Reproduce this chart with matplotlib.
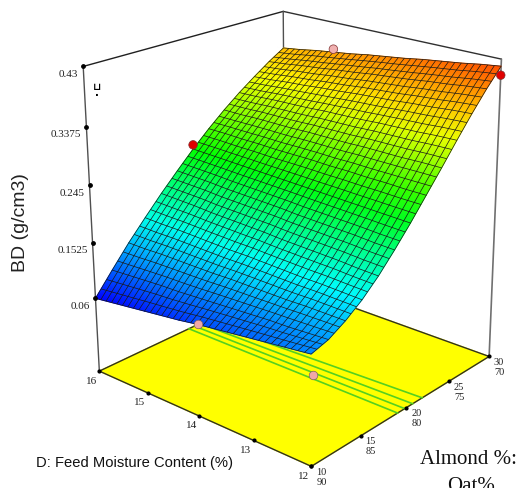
import numpy as np
import matplotlib
matplotlib.use("Agg")
import matplotlib.pyplot as plt
from matplotlib.collections import LineCollection
from matplotlib.colors import LinearSegmentedColormap

moisture_ticks = [16, 15, 14, 13, 12]
almond_ticks = [10, 15, 20, 25, 30]
oat_ticks = [90, 85, 80, 75, 70]
bd_ticks = [0.43, 0.3375, 0.245, 0.1525, 0.06]
bd_tick_labels = ["0.43", "0.3375", "0.245", "0.1525", "0.06"]
moisture_grid = [16, 15.667, 15.333, 15, 14.667, 14.333, 14, 13.667, 13.333, 13, 12.667, 12.333, 12]
almond_grid = [10, 11.667, 13.333, 15, 16.667, 18.333, 20, 21.667, 23.333, 25, 26.667, 28.333, 30]
# BD x 1000. Rows: moisture, columns: almond
bd_table = [
    [60, 95, 129, 160, 190, 218, 245, 270, 293, 314, 333, 351, 367],
    [64, 97, 129, 159, 189, 217, 244, 270, 293, 315, 335, 354, 371],
    [68, 99, 130, 159, 188, 216, 243, 269, 294, 317, 338, 358, 376],
    [72, 101, 130, 158, 186, 214, 242, 269, 294, 318, 340, 361, 380],
    [76, 102, 130, 157, 185, 213, 241, 268, 294, 319, 343, 365, 384],
    [80, 104, 130, 156, 184, 212, 240, 268, 295, 321, 345, 368, 389],
    [85, 106, 131, 156, 183, 211, 239, 268, 295, 322, 348, 372, 393],
    [89, 108, 131, 155, 181, 209, 238, 267, 295, 323, 350, 375, 397],
    [93, 110, 131, 154, 180, 208, 237, 267, 296, 325, 352, 378, 402],
    [97, 112, 131, 153, 179, 207, 236, 266, 296, 326, 355, 382, 406],
    [101, 113, 132, 153, 178, 206, 235, 266, 296, 327, 357, 385, 410],
    [105, 115, 132, 152, 176, 204, 234, 265, 297, 329, 360, 389, 415],
    [109, 117, 132, 151, 175, 203, 233, 265, 297, 330, 362, 392, 419],
]
design_moisture = [16, 15, 12]
design_almond = [20, 30, 30]
design_bd = [0.252, 0.385, 0.405]
design_colors = ["#e00000", "#f0b0b0", "#e00000"]
floor_moisture = [16, 13.6]
floor_almond = [20, 19.5]
contour_d16 = [19.0, 19.6, 20.2, 20.8]
contour_d12 = [19.0, 19.8, 20.7, 21.8]

Z_FLOOR, Z_TOP = -0.0647, 0.43
WIRE_PER_CELL = 3
calib_model = [(16,10,0),(12,10,0),(12,30,0),(16,30,0),(16,10,1),(16,30,1),(12,30,1)]
calib_px = [(98,370),(312,467),(488,356),(287,284),(84,67),(282,11),(502,59)]

A, b = [], []
for (d, a, w), (x, y) in zip(calib_model, calib_px):
    u, v = (16 - d) / 4, (a - 10) / 20
    A.append([u, v, w, 1, 0, 0, 0, 0, -x*u, -x*v, -x*w]); b.append(x)
    A.append([0, 0, 0, 0, u, v, w, 1, -y*u, -y*v, -y*w]); b.append(y)
p = np.linalg.lstsq(np.array(A, float), np.array(b, float), rcond=None)[0]

def project(d, a, z):
    u = (16 - np.asarray(d, float)) / 4
    v = (np.asarray(a, float) - 10) / 20
    w = (np.asarray(z, float) - Z_FLOOR) / (Z_TOP - Z_FLOOR)
    den = p[8]*u + p[9]*v + p[10]*w + 1
    return (p[0]*u + p[1]*v + p[2]*w + p[3]) / den, (p[4]*u + p[5]*v + p[6]*w + p[7]) / den

fig = plt.figure(figsize=(5.19, 4.88), dpi=100)
ax = fig.add_axes([0, 0, 1, 1])
ax.set_xlim(0, 519); ax.set_ylim(488, 0); ax.axis("off")
cmap = LinearSegmentedColormap.from_list("de", ["#0000ff", "#00ffff", "#00ff00", "#ffff00", "#ff3800"])
serif = "Liberation Serif"
sans = "Liberation Sans"
zf = Z_FLOOR
def line(p0, p1, c="#303030", lw=1.0, zo=2):
    x, y = project(*zip(p0, p1))
    ax.plot(x, y, color=c, lw=lw, zorder=zo, solid_capstyle="round")

# box
line((16,10,Z_TOP),(16,30,Z_TOP), c="#202020")
line((16,30,Z_TOP),(12,30,Z_TOP), c="#303030")
line((16,30,zf),(16,30,Z_TOP), c="#505050")
line((16,10,zf),(16,10,Z_TOP), c="#505050")
line((12,30,zf),(12,30,Z_TOP), c="#707070", lw=1.2)
# floor
cx, cy = project([16,12,12,16],[10,10,30,30],[zf]*4)
ax.fill(cx, cy, color="#ffff00", zorder=3)
ax.plot(list(cx)+[cx[0]], list(cy)+[cy[0]], color="#303020", lw=1.0, zorder=4)
for c0, c1 in zip(contour_d16, contour_d12):
    x, y = project([16,12],[c0,c1],[zf,zf])
    ax.plot(x, y, color="#55d020", lw=1.2, zorder=4)
# surface: colours blend between the read nodes
D, Al = np.meshgrid(moisture_grid, almond_grid, indexing="ij")
Zv = np.array(bd_table) / 1000
X, Y = project(D, Al, Zv)
ax.pcolormesh(X, Y, Zv, cmap=cmap, vmin=0.06, vmax=0.43, zorder=5, shading="gouraud")
# wireframe styling over the read faces
n = len(moisture_grid)
fine = np.linspace(0, n-1, (n-1)*WIRE_PER_CELL+1)
def sample(arr, r, c):
    r0 = np.minimum(np.floor(r).astype(int), n-2); c0 = np.minimum(np.floor(c).astype(int), n-2)
    fr, fc = r-r0, c-c0
    return (arr[r0,c0]*(1-fr)*(1-fc)+arr[r0+1,c0]*fr*(1-fc)+arr[r0,c0+1]*(1-fr)*fc+arr[r0+1,c0+1]*fr*fc)
segs = []
for f in fine:
    ff = np.full_like(fine, f)
    segs.append(np.column_stack([sample(X, ff, fine), sample(Y, ff, fine)]))
    segs.append(np.column_stack([sample(X, fine, ff), sample(Y, fine, ff)]))
ax.add_collection(LineCollection(segs, colors="#181818", linewidths=0.5, zorder=6))
# markers
x, y = project(design_moisture, design_almond, design_bd)
ax.scatter(x, y, c=design_colors, s=38, edgecolors="#803030", linewidths=0.5, zorder=7)
x, y = project(floor_moisture, floor_almond, [zf, zf])
ax.scatter(x, y, c="#f0a8a8", s=38, edgecolors="#806060", linewidths=0.5, zorder=7)
# ticks
x, y = project([16]*5, [10]*5, bd_ticks)
ax.scatter(x, y, s=6, c="k", zorder=8)
for xi, yi, t in zip(x, y, bd_tick_labels):
    ax.text(xi-5, yi+8, t, ha="right", va="center", family=serif, fontsize=8, color="#222222")
x, y = project(moisture_ticks, [10]*5, [zf]*5)
ax.scatter(x, y, s=4, c="k", zorder=8)
for xi, yi, t in zip(x, y, moisture_ticks):
    ax.text(xi-8, yi+10, str(t), ha="center", va="center", family=serif, fontsize=8, color="#222222")
x, y = project([12]*5, almond_ticks, [zf]*5)
ax.scatter(x, y, s=4, c="k", zorder=8)
for xi, yi, t, o in zip(x, y, almond_ticks, oat_ticks):
    ax.text(xi+10, yi+6, str(t), ha="center", va="center", family=serif, fontsize=7.5, color="#222222")
    ax.text(xi+10, yi+16, str(o), ha="center", va="center", family=serif, fontsize=7.5, color="#222222")
ax.text(21, 223, "BD (g/cm3)", rotation=90, ha="center", va="center", family=sans, fontsize=14, color="#222222")
ax.text(134, 463, "D: Feed Moisture Content (%)", ha="center", va="center", family=sans, fontsize=10.6, color="#111111")
ax.text(469, 459, "Almond %:", ha="center", va="center", family=serif, fontsize=15, color="#111111")
ax.text(471, 491, "Oat%", ha="center", va="baseline", family=serif, fontsize=15, color="#111111")
ax.text(97, 90, "⊔\n.", ha="center", va="center", family="DejaVu Sans", fontsize=7.5, weight="bold", linespacing=0.6, color="k")
fig.savefig("out.png", dpi=100)
